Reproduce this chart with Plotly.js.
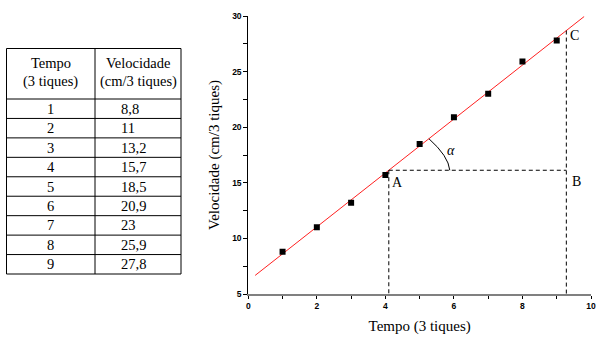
<!DOCTYPE html>
<html>
<head>
<meta charset="utf-8">
<script src="https://cdn.plot.ly/plotly-3.0.1.min.js"></script>
<style>html,body{margin:0;padding:0;background:#fff;}#chart{width:597px;height:338px;}</style>
</head>
<body>
<div id="chart"></div>
<script>
// Data
const tempo = [1, 2, 3, 4, 5, 6, 7, 8, 9];
const velocidade = [8.8, 11, 13.2, 15.7, 18.5, 20.9, 23, 25.9, 27.8];
const headerTempo = ["Tempo", "(3 tiques)"];
const headerVel = ["Velocidade", "(cm/3 tiques)"];
const xTitle = "Tempo (3 tiques)";
const yTitle = "Velocidade (cm/3 tiques)";
const fitX = [0.2, 9.8];          // extent of the fitted line
const xA = 4.1, xC = 9.28;        // construction points on the fit

// least squares fit from the data
const n = tempo.length;
const mx = tempo.reduce((a, b) => a + b, 0) / n;
const my = velocidade.reduce((a, b) => a + b, 0) / n;
let sxy = 0, sxx = 0;
for (let i = 0; i < n; i++) { sxy += (tempo[i] - mx) * (velocidade[i] - my); sxx += (tempo[i] - mx) ** 2; }
const slope = sxy / sxx, icpt = my - slope * mx;
const f = x => icpt + slope * x;
const yA = f(xA), yC = f(xC);

const serif = "Liberation Serif, Times New Roman, serif";
const sans = "Liberation Sans, Arial, sans-serif";

// ---- plot area geometry (pixels) used to place the table in paper coords
const W = 597, H = 338, ML = 0, MR = 6, MT = 16, MB = 44;
const PW = W - ML - MR, PH = H - MT - MB;
const px = p => (p - ML) / PW;
const py = p => (H - MB - p) / PH;

// table layout
const tL = 6.5, tR = 181, tMid = 95, tTop = 48.5, hdrBot = 99, tBot = 274;
const rowH = (tBot - hdrBot) / tempo.length;
const tableLine = { color: "#000", width: 1 };

const shapes = [];
const annotations = [];
const txt = (t, x, y, xa) => ({ text: t, x: px(x), y: py(y), xref: "paper", yref: "paper",
  xanchor: xa || "center", yanchor: "middle", showarrow: false,
  font: { family: serif, size: 14.5, color: "#000" } });

shapes.push({ type: "rect", xref: "paper", yref: "paper", x0: px(tL), x1: px(tR), y0: py(tTop), y1: py(tBot), line: tableLine });
shapes.push({ type: "line", xref: "paper", yref: "paper", x0: px(tMid), x1: px(tMid), y0: py(tTop), y1: py(tBot), line: tableLine });
shapes.push({ type: "line", xref: "paper", yref: "paper", x0: px(tL), x1: px(tR), y0: py(hdrBot), y1: py(hdrBot), line: tableLine });
annotations.push(txt(headerTempo[0], (tL + tMid) / 2, 63));
annotations.push(txt(headerTempo[1], (tL + tMid) / 2, 82));
annotations.push(txt(headerVel[0], (tMid + tR) / 2, 63));
annotations.push(txt(headerVel[1], (tMid + tR) / 2, 82));
tempo.forEach((t, i) => {
  const top = hdrBot + i * rowH;
  if (i > 0) shapes.push({ type: "line", xref: "paper", yref: "paper", x0: px(tL), x1: px(tR), y0: py(top), y1: py(top), line: tableLine });
  const cy = top + rowH / 2;
  annotations.push(txt(String(t), (tL + tMid) / 2, cy));
  annotations.push(txt(String(velocidade[i]).replace(".", ","), 119, cy, "left"));
});

const traces = [
  {
    type: "scatter", mode: "lines",
    x: fitX, y: fitX.map(f),
    line: { color: "#ff2020", width: 1 },
    hoverinfo: "skip", showlegend: false
  },
  {
    type: "scatter", mode: "markers",
    x: tempo, y: velocidade,
    marker: { symbol: "square", size: 6, color: "#000" },
    showlegend: false
  }
];

const dash = { color: "#000", width: 1, dash: "4px,3px" };
// arc for angle alpha
const xs = 5.27, ys = f(5.27);
shapes.push(
  { type: "line", xref: "x", yref: "y", x0: xA, y0: yA, x1: xC, y1: yA, line: dash },
  { type: "line", xref: "x", yref: "y", x0: xA, y0: yA, x1: xA, y1: 5, line: dash },
  { type: "line", xref: "x", yref: "y", x0: xC, y0: yC, x1: xC, y1: 5, line: dash },
  { type: "path", xref: "x", yref: "y",
    path: `M ${xs},${ys} Q 5.84,17.4 5.88,${yA}`,
    line: { color: "#000", width: 1 } }
);

const lbl = (t, x, y) => ({ text: t, x: x, y: y, xref: "x", yref: "y", showarrow: false,
  font: { family: serif, size: 14, color: "#000" } });
annotations.push(
  lbl("A", 4.34, 15.06),
  lbl("B", 9.58, 15.15),
  lbl("C", 9.52, 28.27),
  lbl("<i>α</i>", 5.91, 17.94)
);

const tickfont = { family: sans, size: 8.5, color: "#000", weight: "bold" };
const layout = {
  width: W, height: H,
  margin: { l: ML, r: MR, t: MT, b: MB },
  paper_bgcolor: "#fff", plot_bgcolor: "#fff",
  showlegend: false,
  xaxis: {
    domain: [(248.3 - ML) / PW, 1], range: [0, 10],
    showgrid: false, zeroline: false,
    showline: true, linecolor: "#808080", linewidth: 2,
    ticks: "outside", ticklen: 3, tickcolor: "#000", tickwidth: 1, dtick: 2, tick0: 0,
    minor: { ticks: "outside", ticklen: 3, dtick: 1, tickcolor: "#000", showgrid: false },
    tickfont: tickfont,
    title: { text: xTitle, font: { family: serif, size: 15, color: "#000" }, standoff: 10 }
  },
  yaxis: {
    domain: [0, 1], range: [5, 30],
    showgrid: false, zeroline: false,
    showline: true, linecolor: "#000", linewidth: 1,
    ticks: "outside", ticklen: 4, tickcolor: "#000", tickwidth: 1, dtick: 5, tick0: 0,
    minor: { ticks: "outside", ticklen: 4, dtick: 2.5, tickcolor: "#000", showgrid: false },
    tickfont: tickfont,
    title: { text: yTitle, font: { family: serif, size: 15, color: "#000" }, standoff: 8 }
  },
  shapes: shapes,
  annotations: annotations
};

Plotly.newPlot("chart", traces, layout, { displayModeBar: false, staticPlot: true });
</script>
</body>
</html>
